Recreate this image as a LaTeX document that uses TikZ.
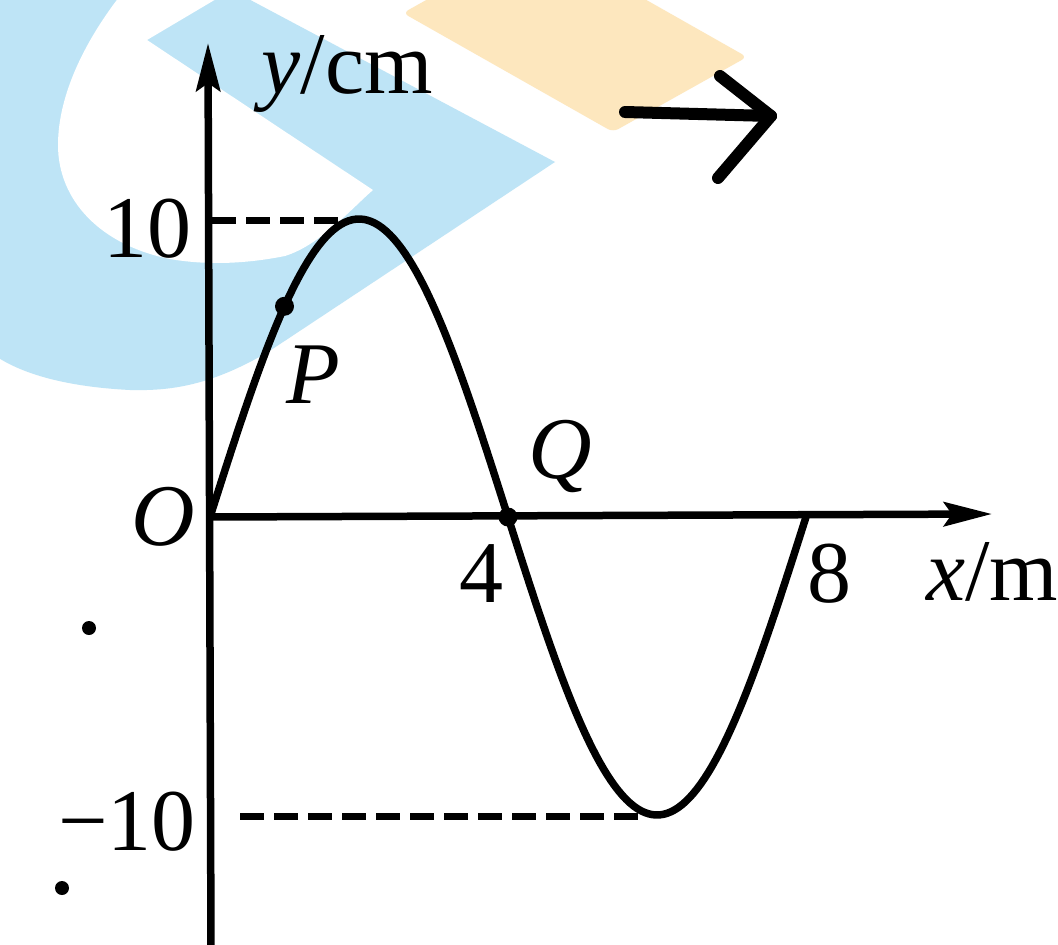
\documentclass[tikz,border=0pt]{standalone}
\usepackage{fontspec}
\usepackage{graphicx}
\setmainfont{Liberation Serif}
\usetikzlibrary{arrows.meta}
\definecolor{wmblue}{RGB}{190,228,246}
\definecolor{wmorange}{RGB}{253,231,190}
\tikzset{
  axisline/.style={line width=7.5pt,-{Stealth[length=48pt,width=24pt,inset=8pt]}},
  curveline/.style={line width=7.5pt,line cap=round},
  dashline/.style={line width=7pt,dash pattern=on 24pt off 10pt},
  lbl/.style={font=\fontsize{88}{88}\selectfont,inner sep=0pt,anchor=base},
  dotmark/.style={circle,fill=black,inner sep=0pt,minimum size=19pt},
  straydot/.style={circle,fill=black,inner sep=0pt,minimum size=14pt},
  wavearrow/.style={line width=12pt,line cap=round,line join=round},
}
\begin{document}
\begin{tikzpicture}[x=1pt,y=-1pt]
\clip (0,0) rectangle (1058,945);
\fill[white] (0,0) rectangle (1058,945);
% watermark shapes
\fill[wmorange,rounded corners=6pt] (403,13) -- (613,132) -- (747,57) -- (537,-62) -- cycle;
\fill[wmblue] (-60,-5) -- (241,-5) -- (555,162) -- (268,352)
  .. controls (210,386) and (170,391) .. (130,390)
  .. controls (70,387) and (20,375) .. (-10,352)
  -- (-60,352) -- cycle;
\fill[white] (123,-8)
  .. controls (85,40) and (58,95) .. (58,145)
  .. controls (58,200) and (100,245) .. (170,259)
  .. controls (210,266) and (250,263) .. (285,256)
  .. controls (320,245) and (350,210) .. (373,190)
  -- (147,40) -- (228,-8) -- cycle;
% coordinates
\coordinate (O) at (210,517);
\coordinate (ytop) at (208,43);
\coordinate (ybot) at (211,950);
\coordinate (xtip) at (992,514);
\coordinate (d1a) at (212,220);
\coordinate (d1b) at (352,220);
\coordinate (d2a) at (240,816);
\coordinate (d2b) at (640,816);
% dashed guides
\draw[dashline] (d1a) -- (d1b);
\draw[dashline] (d2a) -- (d2b);
% axes
\draw[axisline] (ybot) -- (ytop);
\draw[axisline] (O) -- (xtip);
% wave
\draw[curveline] plot[domain=0:8,samples=160] ({210+74.5*\x},{517-298*sin(45*\x)});
% points
\node[dotmark] (Pdot) at ({210+74.5*1.0},{517-298*sin(45*1.0)}) {};
\node[dotmark] (Qdot) at (508,517) {};
\node[straydot] (s1) at (89,628) {};
\node[straydot] (s2) at (62,888) {};
% labels
\node[lbl] (ylab) at (347,93) {\textit{y}/cm};
\node[lbl] (ten) at (147,257) {10};
\node[lbl] (mten) at (127,850) {−10};
\node[lbl] (olab) at (163,545) {\textit{O}};
\node[lbl] (four) at (481,602) {4};
\node[lbl] (eight) at (829,602) {8};
\node[lbl] (xlab) at (992,600) {\textit{x}/m};
\node[lbl] (plab) at (313,403) {\textit{P}};
\node[lbl] (qlab) at (560,478) {\textit{Q}};
% propagation arrow
\coordinate (wa1) at (625,112);
\coordinate (wa2) at (771,116);
\coordinate (wh1) at (720,76);
\coordinate (wh2) at (718,178);
\draw[wavearrow] (wa1) -- (wa2);
\draw[wavearrow] (wh1) -- (wa2) -- (wh2);
\end{tikzpicture}
\end{document}
